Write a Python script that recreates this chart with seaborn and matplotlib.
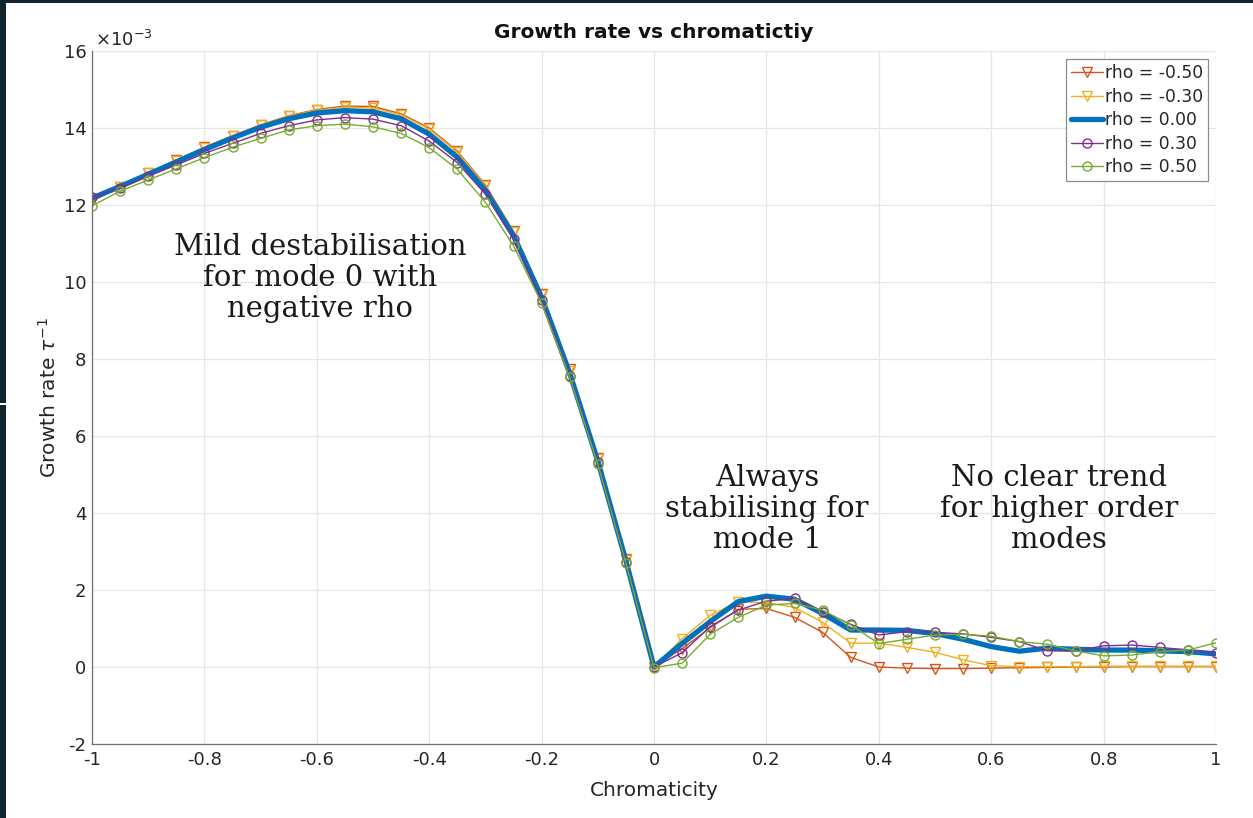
import numpy as np
import pandas as pd
import matplotlib
matplotlib.use("Agg")
import matplotlib.pyplot as plt
from matplotlib.patches import Rectangle
from matplotlib.ticker import FixedLocator, FuncFormatter
import seaborn as sns

# ---------------- data (growth rate in units of 1e-3) ----------------
chromaticity = [-1.00, -0.95, -0.90, -0.85, -0.80, -0.75, -0.70, -0.65, -0.60, -0.55,
                -0.50, -0.45, -0.40, -0.35, -0.30, -0.25, -0.20, -0.15, -0.10, -0.05,
                0.00, 0.05, 0.10, 0.15, 0.20, 0.25, 0.30, 0.35, 0.40, 0.45,
                0.50, 0.55, 0.60, 0.65, 0.70, 0.75, 0.80, 0.85, 0.90, 0.95, 1.00]

rho_m050 = [12.10, 12.47, 12.83, 13.17, 13.50, 13.80, 14.08, 14.32, 14.48, 14.57,
            14.56, 14.37, 14.00, 13.40, 12.52, 11.32, 9.70, 7.73, 5.42, 2.80,
            0.00, 0.48, 1.02, 1.50, 1.52, 1.29, 0.90, 0.25, 0.00, -0.03,
            -0.04, -0.04, -0.03, -0.02, -0.01, 0.00, 0.00, 0.01, 0.01, 0.01, 0.01]

rho_m030 = [12.15, 12.46, 12.82, 13.15, 13.48, 13.79, 14.07, 14.31, 14.46, 14.54,
            14.52, 14.34, 13.97, 13.37, 12.49, 11.29, 9.67, 7.70, 5.39, 2.78,
            0.00, 0.74, 1.34, 1.70, 1.67, 1.55, 1.16, 0.62, 0.62, 0.51,
            0.38, 0.19, 0.03, 0.01, 0.01, 0.01, 0.02, 0.02, 0.02, 0.02, 0.02]

rho_000 = [12.18, 12.48, 12.80, 13.12, 13.44, 13.74, 14.02, 14.24, 14.39, 14.45,
           14.42, 14.24, 13.84, 13.24, 12.38, 11.20, 9.60, 7.63, 5.35, 2.76,
           0.00, 0.61, 1.18, 1.70, 1.84, 1.76, 1.39, 0.96, 0.96, 0.95,
           0.87, 0.72, 0.53, 0.41, 0.49, 0.46, 0.44, 0.44, 0.42, 0.40, 0.34]

rho_p030 = [12.20, 12.45, 12.75, 13.04, 13.34, 13.60, 13.86, 14.06, 14.21, 14.27,
            14.23, 14.06, 13.66, 13.10, 12.28, 11.12, 9.53, 7.57, 5.32, 2.74,
            0.00, 0.37, 1.05, 1.48, 1.71, 1.78, 1.44, 1.11, 0.83, 0.92,
            0.90, 0.86, 0.77, 0.66, 0.42, 0.42, 0.55, 0.57, 0.51, 0.44, 0.37]

rho_p050 = [11.98, 12.36, 12.65, 12.94, 13.23, 13.50, 13.73, 13.95, 14.06, 14.10,
            14.03, 13.86, 13.49, 12.93, 12.07, 10.94, 9.45, 7.53, 5.27, 2.70,
            -0.02, 0.10, 0.85, 1.29, 1.61, 1.65, 1.48, 1.09, 0.61, 0.72,
            0.83, 0.85, 0.80, 0.66, 0.59, 0.42, 0.29, 0.31, 0.40, 0.44, 0.63]

series_labels = ["rho = -0.50", "rho = -0.30", "rho = 0.00", "rho = 0.30", "rho = 0.50"]
x_ticks = [-1, -0.8, -0.6, -0.4, -0.2, 0, 0.2, 0.4, 0.6, 0.8, 1]
y_ticks = [-2, 0, 2, 4, 6, 8, 10, 12, 14, 16]

annotations = [
    ("Mild destabilisation\nfor mode 0 with\nnegative rho", -0.594, 10.1),
    ("Always\nstabilising for\nmode 1", 0.201, 4.1),
    ("No clear trend\nfor higher order\nmodes", 0.72, 4.1),
]

# ---------------- styling ----------------
sns.set_theme(style="white")
plt.rcParams["font.family"] = ["DejaVu Sans"]

colors = ["#D95319", "#EDB120", "#0072BD", "#7E2F8E", "#77AC30"]
markers = ["v", "v", None, "o", "o"]
widths = [1.0, 1.0, 3.8, 1.0, 1.0]
all_series = [rho_m050, rho_m030, rho_000, rho_p030, rho_p050]

fig = plt.figure(figsize=(12.53, 8.18), dpi=100)
fig.patch.set_facecolor("white")
ax = fig.add_axes([92 / 1253, 1 - 744 / 818, (1216 - 92) / 1253, (744 - 51) / 818])
ax.set_facecolor("white")

for vals, lab, col, mk, lw in zip(all_series, series_labels, colors, markers, widths):
    kw = dict(color=col, linewidth=lw, label=lab)
    if mk is not None:
        kw.update(marker=mk, markersize=6.5, markerfacecolor="none",
                  markeredgecolor=col, markeredgewidth=1.0)
    else:
        kw.update(marker=None)
    sns.lineplot(x=chromaticity, y=vals, ax=ax, legend=False, **kw)

ax.set_xlim(-1, 1)
ax.set_ylim(-2, 16)
ax.xaxis.set_major_locator(FixedLocator(x_ticks))
ax.yaxis.set_major_locator(FixedLocator(y_ticks))
fmt = FuncFormatter(lambda v, p: ("%g" % v).replace("\u2212", "-"))
ax.xaxis.set_major_formatter(fmt)
ax.yaxis.set_major_formatter(fmt)

ax.grid(True, color="#e6e6e6", linewidth=0.9)
ax.set_axisbelow(True)
for s in ["top", "right"]:
    ax.spines[s].set_visible(False)
for s in ["left", "bottom"]:
    ax.spines[s].set_color("#6e6e6e")
    ax.spines[s].set_linewidth(0.9)
ax.tick_params(axis="both", direction="in", length=6, width=0.8, color="#6e6e6e",
               labelsize=13, labelcolor="#262626", pad=4)
ax.tick_params(axis="x", pad=5)

ax.set_title("Growth rate vs chromatictiy", fontsize=14.5, fontweight="bold",
             color="#111111", pad=9)
ax.set_xlabel("Chromaticity", fontsize=14.5, color="#262626", labelpad=9)
ax.set_ylabel("Growth rate $\\tau^{-1}$", fontsize=14.5, color="#262626", labelpad=3)

ax.text(0.003, 1.002, "$\\times\\mathregular{10^{-3}}$", transform=ax.transAxes,
        fontsize=13, color="#262626", ha="left", va="bottom")

for txt, xx, yy in annotations:
    ax.text(xx, yy, txt, fontsize=21, family="DejaVu Serif", color="#1a1a1a",
            ha="center", va="center", linespacing=1.15)

leg = ax.legend(loc="upper right", bbox_to_anchor=(0.993, 0.988), fontsize=12.3,
                frameon=True, fancybox=False, framealpha=1, edgecolor="#8c8c8c",
                handlelength=1.9, handletextpad=0.1, labelspacing=0.32,
                borderpad=0.3, borderaxespad=0.0)
leg.get_frame().set_linewidth(0.9)
for t in leg.get_texts():
    t.set_color("#262626")

# screenshot border
dark = "#12252f"
fig.add_artist(Rectangle((0, 0), 6 / 1253, 1, transform=fig.transFigure,
                         facecolor=dark, edgecolor="none", zorder=10))
fig.add_artist(Rectangle((0, 1 - 3 / 818), 1, 3 / 818, transform=fig.transFigure,
                         facecolor=dark, edgecolor="none", zorder=10))
fig.add_artist(Rectangle((0, 1 - 405 / 818), 6 / 1253, 2 / 818, transform=fig.transFigure,
                         facecolor="white", edgecolor="none", zorder=11))

fig.savefig("out.png", dpi=100, facecolor=fig.get_facecolor())
